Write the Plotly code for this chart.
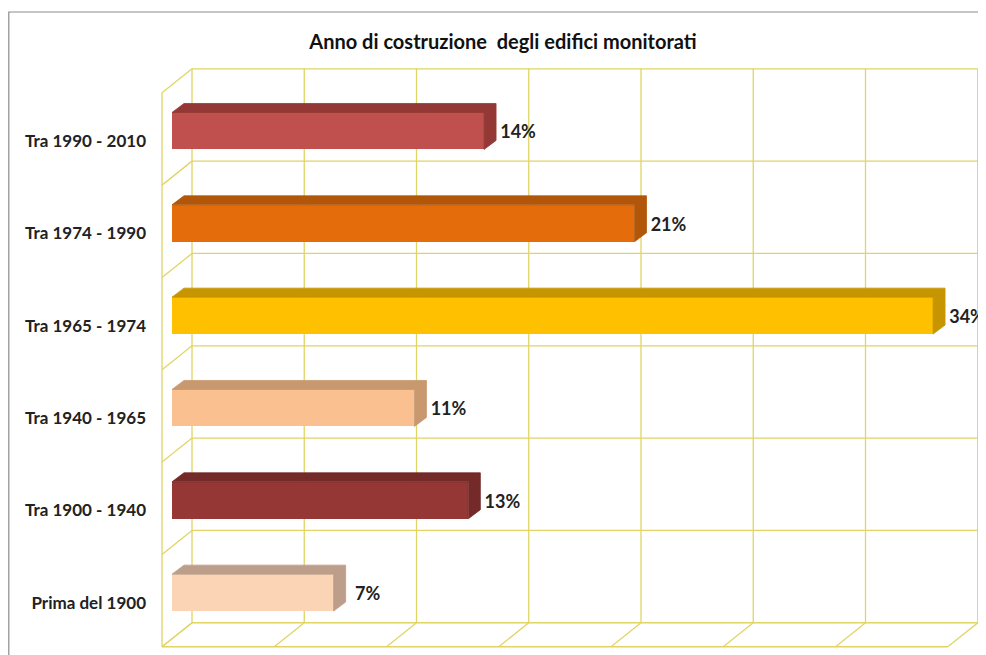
import plotly.graph_objects as go

# ---------------- data (bottom to top, as drawn) ----------------
categories = ["Prima del 1900", "Tra 1900 - 1940", "Tra 1940 - 1965",
              "Tra 1965 - 1974", "Tra 1974 - 1990", "Tra 1990 - 2010"]
values = [7.2, 13.2, 10.8, 33.9, 20.6, 13.9]          # bar lengths (%)
value_labels = ["7%", "13%", "11%", "34%", "21%", "14%"]
front_colors = ["#FBD4B6", "#953735", "#FAC090", "#FFC000", "#E46C0A", "#C0504D"]
shade_colors = ["#BC9E8A", "#742A28", "#C8996F", "#C69500", "#B2560A", "#943836"]
grid_ticks = [0, 5, 10, 15, 20, 25, 30, 35]
title_text = "Anno di costruzione  degli edifici monitorati"

# ---------------- geometry of the oblique 3-D look ----------------
OFF = 8                  # the page body margin shifts the figure by 8 px
W, H = 986 - OFF, 655 - OFF
ML = 150 - OFF           # left margin (px)
PX_PCT = 22.45           # px per 1 %
PX_CAT = 92.33           # px per category
X0_PX = 172 - OFF        # px of 0 % on the bars' front plane
Y0_PX = 592.6 - OFF      # px of first category centre on the bars' front plane

def ddx(px):
    return px / PX_PCT

def ddy(px):             # px measured upward
    return px / PX_CAT

x_range = [(ML - X0_PX) / PX_PCT, (W - X0_PX) / PX_PCT]
y_range = [(Y0_PX - H) / PX_CAT, Y0_PX / PX_CAT]

# wall planes relative to the bar front plane
fx, fy = ddx(-10), ddy(-8)     # front edge of the floor / left wall
bx, by = ddx(20), ddy(16)      # back wall
# bar depth
bdx, bdy = ddx(12), ddy(9)
bar_w = 0.4

n = len(categories)
y_bounds = [i - 0.5 for i in range(n + 1)]
gmax = grid_ticks[-1]

grid_color = "#E0D464"
shapes = []

def seg(x0, y0, x1, y1):
    shapes.append(dict(type="line", xref="x", yref="y", x0=x0, y0=y0, x1=x1, y1=y1,
                       line=dict(color=grid_color, width=1.3), layer="below"))

# back wall
for yb in y_bounds:
    seg(bx, yb + by, gmax + bx, yb + by)
for gx in grid_ticks:
    seg(gx + bx, y_bounds[0] + by, gx + bx, y_bounds[-1] + by)
# left wall
seg(fx, y_bounds[0] + fy, fx, y_bounds[-1] + fy)
for yb in y_bounds:
    seg(fx, yb + fy, bx, yb + by)
# floor
seg(fx, y_bounds[0] + fy, gmax + fx, y_bounds[0] + fy)
for gx in grid_ticks:
    seg(gx + fx, y_bounds[0] + fy, gx + bx, y_bounds[0] + by)

# outer frame of the picture
shapes.append(dict(type="rect", xref="paper", yref="paper",
                   x0=(0.8 - ML) / (W - ML), x1=1.02, y0=-0.02, y1=1 - (12 - OFF) / H,
                   line=dict(color="#8C8C8C", width=1.2), layer="below"))

fig = go.Figure()

# front faces
idx = list(range(n))
fig.add_trace(go.Bar(
    y=idx, x=values, orientation="h", width=bar_w, base=0,
    marker=dict(color=front_colors, line=dict(width=0)),
    showlegend=False, hoverinfo="skip"))

# top + side faces
for i, v in enumerate(values):
    t, b = i + bar_w / 2, i - bar_w / 2
    fig.add_trace(go.Scatter(
        x=[0, bdx, v + bdx, v + bdx, v, v, 0],
        y=[t, t + bdy, t + bdy, b + bdy, b, t, t],
        mode="lines", fill="toself", fillcolor=shade_colors[i],
        line=dict(width=0.8, color=shade_colors[i]),
        showlegend=False, hoverinfo="skip"))

# value labels
fig.add_trace(go.Scatter(
    x=[v + ddx(34) for v in values], y=[i + ddy(-3) for i in idx],
    mode="text", text=value_labels, textposition="middle center", cliponaxis=False,
    textfont=dict(family="Lato", size=18, color="#222222", weight="bold"),
    showlegend=False, hoverinfo="skip"))

fig.update_layout(
    width=W, height=H,
    margin=dict(l=ML, r=0, t=0, b=0),
    paper_bgcolor="white", plot_bgcolor="white",
    shapes=shapes,
    title=dict(text=title_text, x=(503 - OFF) / W, y=1 - (42 - OFF) / H,
               xref="container", yref="container",
               xanchor="center", yanchor="middle",
               font=dict(family="Lato", size=20, color="#111111", weight="bold")),
    xaxis=dict(range=x_range, visible=False, showgrid=False, zeroline=False, fixedrange=True),
    yaxis=dict(range=y_range, showgrid=False, zeroline=False, showline=False,
               tickmode="array", tickvals=[i + ddy(-10) for i in idx], ticktext=categories,
               ticks="", ticklabelstandoff=3,
               tickfont=dict(family="Lato", size=17, color="#222222", weight="bold")),
    bargap=0,
)

fig.write_html("out.html")
